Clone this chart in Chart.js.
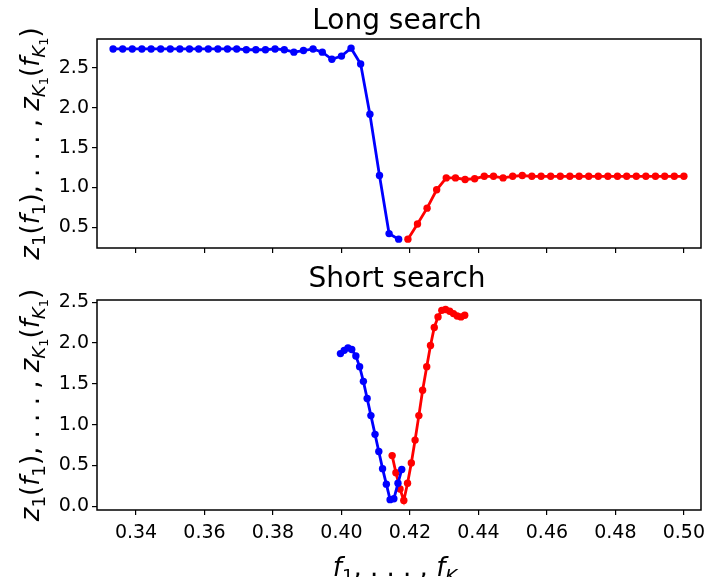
<!DOCTYPE html>
<html>
<head>
<meta charset="utf-8">
<script src="https://cdn.jsdelivr.net/npm/chart.js@4.4.0/dist/chart.umd.min.js"></script>
<style>
  html, body { margin: 0; padding: 0; background: #fff; overflow: hidden; }
  #wrap { position: relative; width: 705px; height: 577px; }
  canvas { position: absolute; left: 0; }
  #longChart { top: 0; }
  #shortChart { top: 265px; }
</style>
</head>
<body>
<div id="wrap">
  <canvas id="longChart" width="705" height="265"></canvas>
  <canvas id="shortChart" width="705" height="312"></canvas>
</div>
<script>
// data
const longF1 = [0.3333, 0.3361, 0.3389, 0.3417, 0.3444, 0.3472, 0.3500, 0.3528, 0.3556, 0.3583,
                0.3611, 0.3639, 0.3667, 0.3694, 0.3722, 0.3750, 0.3778, 0.3806, 0.3833, 0.3861,
                0.3889, 0.3917, 0.3944, 0.3972, 0.4000, 0.4028, 0.4056, 0.4083, 0.4111, 0.4139, 0.4167];
const longZ1 = [2.74, 2.74, 2.74, 2.74, 2.74, 2.74, 2.74, 2.74, 2.74, 2.74,
                2.74, 2.74, 2.74, 2.74, 2.73, 2.73, 2.73, 2.74, 2.73, 2.70,
                2.72, 2.74, 2.70, 2.61, 2.65, 2.75, 2.55, 1.92, 1.15, 0.42, 0.35];
const longF2 = [0.4194, 0.4222, 0.4250, 0.4278, 0.4306, 0.4333, 0.4361, 0.4389, 0.4417, 0.4444,
                0.4472, 0.4500, 0.4528, 0.4556, 0.4583, 0.4611, 0.4639, 0.4667, 0.4694, 0.4722,
                0.4750, 0.4778, 0.4806, 0.4833, 0.4861, 0.4889, 0.4917, 0.4944, 0.4972, 0.5000];
const longZ2 = [0.35, 0.54, 0.74, 0.97, 1.12, 1.12, 1.10, 1.11, 1.14, 1.14,
                1.12, 1.14, 1.15, 1.14, 1.14, 1.14, 1.14, 1.14, 1.14, 1.14,
                1.14, 1.14, 1.14, 1.14, 1.14, 1.14, 1.14, 1.14, 1.14, 1.14];

const shortF1 = [0.3997, 0.4008, 0.4019, 0.4030, 0.4042, 0.4053, 0.4064, 0.4075, 0.4086,
                 0.4098, 0.4109, 0.4120, 0.4131, 0.4142, 0.4153, 0.4165, 0.4176];
const shortZ1 = [1.87, 1.91, 1.94, 1.92, 1.84, 1.71, 1.53, 1.32, 1.11,
                 0.88, 0.67, 0.46, 0.27, 0.08, 0.09, 0.28, 0.45];
const shortF2 = [0.4148, 0.4159, 0.4171, 0.4182, 0.4193, 0.4204, 0.4215, 0.4226, 0.4237, 0.4249,
                 0.4260, 0.4271, 0.4282, 0.4293, 0.4304, 0.4316, 0.4327, 0.4338, 0.4349, 0.4360];
const shortZ2 = [0.62, 0.41, 0.21, 0.07, 0.28, 0.53, 0.81, 1.11, 1.42, 1.71,
                 1.97, 2.19, 2.32, 2.40, 2.41, 2.39, 2.36, 2.33, 2.32, 2.34];

const xTicks = [0.34, 0.36, 0.38, 0.40, 0.42, 0.44, 0.46, 0.48, 0.50];
const longYTicks = [0.5, 1.0, 1.5, 2.0, 2.5];
const shortYTicks = [0.0, 0.5, 1.0, 1.5, 2.0, 2.5];

// mathtext-like label pieces: [text, italic, level]
const yLabelParts = [
  ['z', true, 0], ['1', false, 1], ['(', false, 0], ['f', true, 0], ['1', false, 1], [')', false, 0],
  [', . . . , ', false, 0],
  ['z', true, 0], ['K', true, 1], ['1', false, 2], ['(', false, 0], ['f', true, 0], ['K', true, 1], ['1', false, 2], [')', false, 0]
];
const xLabelParts = [['f', true, 0], ['1', false, 1], [', . . . , ', false, 0], ['f', true, 0], ['K', true, 1]];

Chart.defaults.font.family = 'DejaVu Sans';
Chart.defaults.color = '#000';

const FONT = 'DejaVu Sans';
const LABEL_SIZE = 26;

function partFont(p, size) {
  const s = p[2] === 0 ? size : (p[2] === 1 ? size * 0.7 : size * 0.5);
  return (p[1] ? 'italic ' : '') + s + 'px "' + FONT + '"';
}
function partShift(p, size) {
  if (p[2] === 1) return size * 0.22;
  if (p[2] === 2) return size * 0.34;
  return 0;
}
function drawMath(ctx, parts, size, cx, baseY) {
  let total = 0;
  parts.forEach(p => { ctx.font = partFont(p, size); total += ctx.measureText(p[0]).width; });
  let x = cx - total / 2;
  ctx.textAlign = 'left';
  ctx.textBaseline = 'alphabetic';
  parts.forEach(p => {
    ctx.font = partFont(p, size);
    ctx.fillText(p[0], x, baseY + partShift(p, size));
    x += ctx.measureText(p[0]).width;
  });
}

const decoPlugin = {
  id: 'deco',
  afterDraw(chart, args, opts) {
    const ctx = chart.ctx;
    const a = chart.chartArea;
    ctx.save();
    // box round the axes
    ctx.strokeStyle = '#000';
    ctx.lineWidth = 1.5;
    ctx.strokeRect(a.left, a.top, a.right - a.left, a.bottom - a.top);
    ctx.fillStyle = '#000';
    // title
    ctx.font = '28px "' + FONT + '"';
    ctx.textAlign = 'center';
    ctx.textBaseline = 'alphabetic';
    ctx.fillText(opts.title, (a.left + a.right) / 2 - 2, opts.titleY);
    // y label
    ctx.save();
    ctx.translate(39, (a.top + a.bottom) / 2);
    ctx.rotate(-Math.PI / 2);
    drawMath(ctx, yLabelParts, LABEL_SIZE, 0, 0);
    ctx.restore();
    // x label
    if (opts.xlabel) {
      drawMath(ctx, xLabelParts, LABEL_SIZE, (a.left + a.right) / 2 - 4, opts.xlabelY);
    }
    ctx.restore();
  }
};

function series(xs, ys, color) {
  return {
    data: xs.map((x, i) => ({ x: x, y: ys[i] })),
    borderColor: color,
    backgroundColor: color,
    borderWidth: 2.8,
    pointRadius: 3.7,
    pointBorderWidth: 0,
    tension: 0,
    fill: false
  };
}

function makeChart(id, sets, yMin, yMax, yTicks, showXLabels, top, xAxisH, deco) {
  return new Chart(document.getElementById(id), {
    type: 'line',
    data: { datasets: sets },
    plugins: [decoPlugin],
    options: {
      responsive: false,
      animation: false,
      layout: { padding: { top: top, right: 3, left: 0, bottom: 0 } },
      plugins: {
        legend: { display: false },
        tooltip: { enabled: false },
        deco: deco
      },
      scales: {
        x: {
          type: 'linear',
          min: 0.3286,
          max: 0.5050,
          border: { display: false },
          grid: { drawOnChartArea: false, drawTicks: true, tickLength: 5, color: '#000', lineWidth: 1.2 },
          ticks: {
            font: { size: 19 },
            padding: 7,
            maxRotation: 0,
            callback: v => showXLabels ? v.toFixed(2) : ''
          },
          afterBuildTicks: s => { s.ticks = xTicks.map(v => ({ value: v })); },
          afterFit: s => { s.height = xAxisH; s.paddingLeft = 0; s.paddingRight = 0; }
        },
        y: {
          min: yMin,
          max: yMax,
          border: { display: false },
          grid: { drawOnChartArea: false, drawTicks: true, tickLength: 5, color: '#000', lineWidth: 1.2 },
          ticks: {
            font: { size: 19 },
            padding: 3,
            callback: v => v.toFixed(1)
          },
          afterBuildTicks: s => { s.ticks = yTicks.map(v => ({ value: v })); },
          afterFit: s => { s.width = 97; s.paddingTop = 0; s.paddingBottom = 0; }
        }
      }
    }
  });
}

makeChart('longChart',
  [series(longF1, longZ1, '#0000ff'), series(longF2, longZ2, '#ff0000')],
  0.239, 2.865, longYTicks, false, 39, 17,
  { title: 'Long search', titleY: 29, xlabel: false });

makeChart('shortChart',
  [series(shortF1, shortZ1, '#0000ff'), series(shortF2, shortZ2, '#ff0000')],
  -0.047, 2.527, shortYTicks, true, 35, 67,
  { title: 'Short search', titleY: 22, xlabel: true, xlabelY: 311 });
</script>
</body>
</html>
